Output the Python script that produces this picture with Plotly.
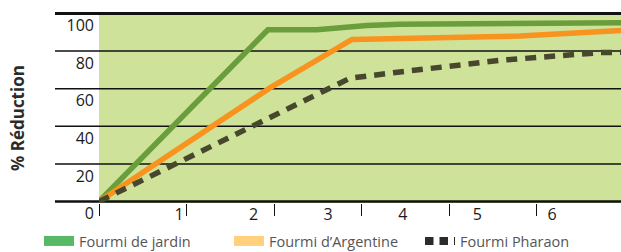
import plotly.graph_objects as go

# ---- data (x in units of the tick-mark axis) ----
green_x = [0, 1.93, 2.49, 3.06, 3.44, 5.97]
green_y = [0, 91.3, 91.3, 93.6, 94.3, 95.1]

orange_x = [0, 1.954, 2.891, 3.44, 4.81, 5.97]
orange_y = [0, 60.4, 86.2, 86.9, 88.0, 91.0]

pharaon_x = [0, 2.869, 3.44, 4.583, 5.726, 5.97]
pharaon_y = [0, 65.6, 68.9, 75.1, 79.2, 79.4]

x_tick_marks = [0, 1, 2, 3, 4, 5]
x_tick_labels = ["1", "2", "3", "4", "5", "6"]
y_ticks = [0, 20, 40, 60, 80, 100]
y_tick_labels = ["0", "20", "40", "60", "80", "100"]

legend_names = ["Fourmi de jardin", "Fourmi d\u2019Argentine", "Fourmi Pharaon"]

GREEN = "#6a9d3b"
ORANGE = "#f7931e"
DARK = "#47472e"
BG = "#cfe29a"

fig = go.Figure()

fig.add_trace(go.Scatter(x=green_x, y=green_y, mode="lines",
                         line=dict(color=GREEN, width=5.5), showlegend=False, hoverinfo="skip"))
fig.add_trace(go.Scatter(x=orange_x, y=orange_y, mode="lines",
                         line=dict(color=ORANGE, width=5.5), showlegend=False, hoverinfo="skip"))
fig.add_trace(go.Scatter(x=pharaon_x, y=pharaon_y, mode="lines",
                         line=dict(color=DARK, width=5.5, dash="11px,8px"), showlegend=False, hoverinfo="skip"))

# legend entries (one legend each, so they sit side by side like the original)
fig.add_trace(go.Scatter(x=[None], y=[None], mode="lines", name=legend_names[0], legend="legend",
                         line=dict(color="#57b866", width=10)))
fig.add_trace(go.Scatter(x=[None], y=[None], mode="lines", name=legend_names[1], legend="legend2",
                         line=dict(color="#ffd17c", width=10)))
fig.add_trace(go.Scatter(x=[None], y=[None], mode="lines", name=legend_names[2], legend="legend3",
                         line=dict(color="#2b2b2b", width=8, dash="8.5px,6px")))

# horizontal rules extending left of the plot area
for v in y_ticks:
    w = 3 if v == 100 else (2.5 if v == 0 else 1.5)
    fig.add_shape(type="line", xref="paper", yref="y", x0=-44 / 522, x1=1, y0=v, y1=v,
                  line=dict(color="#111111", width=w), layer="below")

# label axis for 1..6 (offset from tick marks, as in the original)
fig.add_trace(go.Scatter(x=[None], y=[None], xaxis="x2", showlegend=False))

legend_style = dict(orientation="h", xref="container", yref="container",
                    xanchor="left", y=1 - 241 / 252, yanchor="middle",
                    font=dict(size=14.5, color="#555555"), bgcolor="rgba(0,0,0,0)")

fig.update_layout(
    width=621, height=252,
    margin=dict(l=99, r=0, t=11.5, b=48.5, autoexpand=False),
    paper_bgcolor="white", plot_bgcolor=BG,
    font=dict(family="Open Sans", color="#1a1a1a"),
    xaxis=dict(range=[0, 522 / 87.5], tickvals=x_tick_marks, showticklabels=False,
               ticks="outside", ticklen=12, tickwidth=1.3, tickcolor="#111",
               showgrid=False, zeroline=False, showline=False, fixedrange=True),
    xaxis2=dict(range=[-0.072, 6.925], overlaying="x", side="bottom",
                tickvals=[1, 2, 3, 4, 5, 6], ticktext=x_tick_labels, ticks="",
                tickfont=dict(size=16, color="#1a1a1a"),
                showgrid=False, zeroline=False, showline=False),
    yaxis=dict(range=[-0.8, 100.8], tickvals=y_ticks, ticktext=y_tick_labels,
               ticks="", showgrid=False, zeroline=False, showline=False,
               ticklabelshift=12, ticklabelstandoff=4,
               tickfont=dict(size=16, color="#1a1a1a")),
    legend=dict(x=39 / 621, **legend_style),
    legend2=dict(x=229 / 621, **legend_style),
    legend3=dict(x=420 / 621, **legend_style),
    annotations=[dict(text="<b>% Réduction</b>", xref="paper", yref="paper",
                      x=-0.157, xanchor="center", y=0.445, yanchor="middle",
                      showarrow=False, textangle=-90,
                      font=dict(size=17, color="#2b2b2b"))],
)

fig.write_html("out.html", config={"displayModeBar": False},
               post_script="document.body.style.margin='0';document.body.style.overflow='hidden';")
